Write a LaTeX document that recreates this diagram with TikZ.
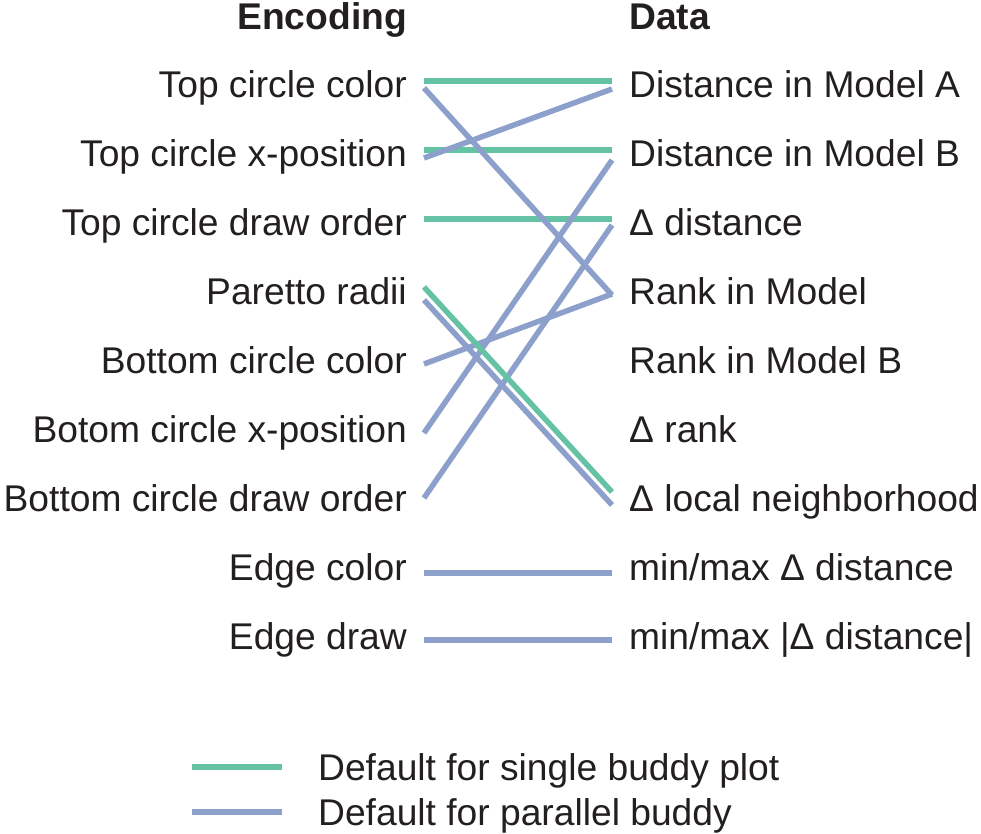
\documentclass[tikz,border=0pt]{standalone}
\usepackage{fontspec}
\setmainfont{Liberation Sans}
\definecolor{sgreen}{HTML}{66C2A5}
\definecolor{sblue}{HTML}{8DA0CB}
\definecolor{txt}{HTML}{231F20}
\begin{document}
\begin{tikzpicture}[x=1pt,y=-1pt,
  lab/.style={inner sep=0pt,font=\fontsize{37.2}{44}\selectfont,text=txt},
  enc/.style={lab,anchor=base east},
  dat/.style={lab,anchor=base west},
  hdr/.style={font=\fontsize{37.2}{44}\selectfont\bfseries},
  gline/.style={draw=sgreen,line width=5.5pt},
  bline/.style={draw=sblue,line width=5.5pt}]
\useasboundingbox (0,0) rectangle (981,833);
% headers
\node[enc,hdr] (encH) at (407,29) {Encoding};
\node[dat,hdr] (datH) at (629,29) {Data};
% encoding labels
\node[enc] (e1) at (407,97) {Top circle color};
\node[enc] (e2) at (407,166) {Top circle x-position};
\node[enc] (e3) at (407,235) {Top circle draw order};
\node[enc] (e4) at (407,304) {Paretto radii};
\node[enc] (e5) at (407,373) {Bottom circle color};
\node[enc] (e6) at (407,442) {Botom circle x-position};
\node[enc] (e7) at (407,511) {Bottom circle draw order};
\node[enc] (e8) at (407,580) {Edge color};
\node[enc] (e9) at (407,649) {Edge draw};
% data labels
\node[dat] (d1) at (629,97) {Distance in Model A};
\node[dat] (d2) at (629,166) {Distance in Model B};
\node[dat] (d3) at (629,235) {Δ distance};
\node[dat] (d4) at (629,304) {Rank in Model};
\node[dat] (d5) at (629,373) {Rank in Model B};
\node[dat] (d6) at (629,442) {Δ rank};
\node[dat] (d7) at (629,511) {Δ local neighborhood};
\node[dat] (d8) at (629,580) {min/max Δ distance};
\node[dat] (d9) at (629,649) {min/max |Δ distance|};
% endpoints
\coordinate (g1a) at (424,81);  \coordinate (g1b) at (612,81);
\coordinate (g2a) at (424,150); \coordinate (g2b) at (612,150);
\coordinate (g3a) at (424,219); \coordinate (g3b) at (612,219);
\coordinate (g4a) at (424,287); \coordinate (g4b) at (612,492);
\coordinate (b1a) at (424,88);  \coordinate (b1b) at (612,295);
\coordinate (b2a) at (424,158); \coordinate (b2b) at (612,89);
\coordinate (b3a) at (424,498); \coordinate (b3b) at (612,225);
\coordinate (b4a) at (424,433); \coordinate (b4b) at (612,160);
\coordinate (b5a) at (424,364); \coordinate (b5b) at (612,294);
\coordinate (b6a) at (424,300); \coordinate (b6b) at (612,505);
\coordinate (b7a) at (424,573); \coordinate (b7b) at (612,573);
\coordinate (b8a) at (424,640); \coordinate (b8b) at (612,640);
% connectors
\draw[gline] (g1a) -- (g1b);
\draw[gline] (g2a) -- (g2b);
\draw[gline] (g3a) -- (g3b);
\draw[bline] (b1a) -- (b1b);
\draw[bline] (b2a) -- (b2b);
\draw[bline] (b3a) -- (b3b);
\draw[bline] (b4a) -- (b4b);
\draw[bline] (b5a) -- (b5b);
\draw[bline] (b6a) -- (b6b);
\draw[gline] (g4a) -- (g4b);
\draw[bline] (b7a) -- (b7b);
\draw[bline] (b8a) -- (b8b);
% legend
\coordinate (lg1a) at (192,767); \coordinate (lg1b) at (282,767);
\coordinate (lg2a) at (192,812); \coordinate (lg2b) at (282,812);
\draw[gline] (lg1a) -- (lg1b);
\draw[bline] (lg2a) -- (lg2b);
\node[dat] (leg1) at (318,780) {Default for single buddy plot};
\node[dat] (leg2) at (318,825) {Default for parallel buddy};
\end{tikzpicture}
\end{document}
